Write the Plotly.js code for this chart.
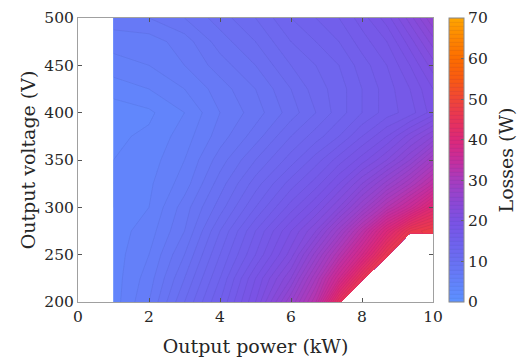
<!DOCTYPE html>
<html>
<head>
<meta charset="utf-8">
<script src="https://cdn.plot.ly/plotly-3.0.1.min.js"></script>
<style>html,body{margin:0;padding:0;background:#fff;}#chart{width:521px;height:358px;}</style>
</head>
<body>
<div id="chart"></div>
<script>
// Output power (kW)
var powerKW = [1, 2, 3, 4, 5, 6, 6.7, 7.35, 8, 8.7, 9.35, 10];
// Output voltage (V)
var voltageV = [200, 225, 250, 275, 300, 325, 350, 375, 400, 425, 450, 475, 500];
// Losses (W), one array per voltage row (NaN = not operable)
var loss200 = [4.5, 7, 11, 15, 20, 27, 33, 44, NaN, NaN, NaN, NaN];
var loss225 = [4.5, 6.5, 10, 14, 19, 24, 30, 37, 45, NaN, NaN, NaN];
var loss250 = [4.5, 6, 9, 13, 17, 21.5, 26.5, 32, 38, 46, NaN, NaN];
var loss275 = [4.5, 5.5, 8, 12, 16, 20, 23, 27.5, 33, 40, 46, 48];
var loss300 = [4, 5, 7.5, 10.5, 14, 17.5, 20, 23, 27, 32, 36, 41];
var loss325 = [4, 4.8, 6.5, 9.5, 12.5, 15.5, 17.5, 20, 23, 26.5, 30, 34];
var loss350 = [4, 4.5, 6, 8.5, 11, 13.5, 15.5, 17.5, 19.5, 22, 25, 29];
var loss375 = [3.8, 4.2, 5.5, 7.5, 9.5, 12, 13.5, 15, 17, 19, 21.5, 24];
var loss400 = [3.3, 3.8, 5, 7, 8.5, 10.5, 12, 13.5, 15, 16.5, 17.5, 19.5];
var loss425 = [4.5, 5, 6, 7.5, 9, 11, 12.5, 13.5, 15, 16.5, 18, 20];
var loss450 = [5.5, 6, 7, 8.5, 10, 12, 13, 14, 15.5, 17, 19, 21.5];
var loss475 = [6.5, 6.5, 7.5, 9.5, 11, 13, 14, 15, 16.5, 18, 20.5, 23.5];
var loss500 = [7.5, 8, 9, 10.5, 12, 14, 15, 16, 17.5, 19.5, 22.5, 26];

var xTicks = [0, 2, 4, 6, 8, 10];
var yTicks = [200, 250, 300, 350, 400, 450, 500];
var cbTicks = [0, 10, 20, 30, 40, 50, 60, 70];

var csLevels = [0, 5, 10, 15, 20, 25, 30, 35, 40, 45, 50, 55, 60, 65, 70];
var csColors = ['rgb(92,146,255)', 'rgb(99,130,250)', 'rgb(106,112,242)', 'rgb(113,96,236)',
  'rgb(123,82,228)', 'rgb(142,71,211)', 'rgb(168,60,190)', 'rgb(198,46,156)', 'rgb(220,40,122)',
  'rgb(231,52,88)', 'rgb(240,70,55)', 'rgb(249,90,18)', 'rgb(252,108,0)', 'rgb(254,135,0)',
  'rgb(255,165,0)'];

var zRows = [loss200, loss225, loss250, loss275, loss300, loss325, loss350,
  loss375, loss400, loss425, loss450, loss475, loss500];
var colorscale = csLevels.map(function (v, i) { return [v / 70, csColors[i]]; });

var fontFam = 'DejaVu Serif, serif';
var txtCol = '#262626';

var trace = {
  type: 'contour',
  x: powerKW,
  y: voltageV,
  z: zRows,
  connectgaps: false,
  autocontour: false,
  contours: {coloring: 'fill', start: 0, end: 70, size: 1, showlines: true},
  line: {color: 'rgba(40,40,90,0.13)', width: 0.6, smoothing: 0},
  zauto: false, zmin: 0, zmax: 70,
  colorscale: colorscale,
  hoverinfo: 'skip',
  colorbar: {
    x: 1.045, xanchor: 'left', xpad: 0,
    y: 0.5, yanchor: 'middle', ypad: 0,
    len: 1, lenmode: 'fraction',
    thickness: 15, thicknessmode: 'pixels',
    outlinecolor: '#8a8a8a', outlinewidth: 1,
    tickmode: 'array', tickvals: cbTicks,
    ticks: 'inside', ticklen: 3, tickcolor: '#666',
    tickfont: {family: fontFam, size: 15.5, color: txtCol},
    ticklabelpad: 4
  }
};

var layout = {
  width: 521, height: 358,
  margin: {l: 78, r: 88, t: 18, b: 56},
  paper_bgcolor: '#fff', plot_bgcolor: '#fff',
  showlegend: false,
  xaxis: {
    range: [0, 10], tickmode: 'array', tickvals: xTicks,
    ticks: 'inside', ticklen: 4, tickcolor: '#555', mirror: 'ticks',
    showline: true, linecolor: '#a0a0a0', linewidth: 1,
    showgrid: false, zeroline: false,
    tickfont: {family: fontFam, size: 15.5, color: txtCol},
    title: {text: 'Output power (kW)', font: {family: fontFam, size: 19, color: txtCol}, standoff: 15}
  },
  yaxis: {
    range: [200, 500], tickmode: 'array', tickvals: yTicks,
    ticks: 'inside', ticklen: 4, tickcolor: '#555', mirror: 'ticks',
    showline: true, linecolor: '#a0a0a0', linewidth: 1,
    showgrid: false, zeroline: false,
    tickfont: {family: fontFam, size: 15.5, color: txtCol},
    title: {text: 'Output voltage (V)', font: {family: fontFam, size: 19, color: txtCol}, standoff: 3}
  },
  annotations: [{
    text: 'Losses (W)', xref: 'paper', yref: 'paper', x: 1.207, y: 0.5,
    xanchor: 'center', yanchor: 'middle', textangle: -90, showarrow: false,
    font: {family: fontFam, size: 19, color: txtCol}
  }]
};

Plotly.newPlot('chart', [trace], layout, {displayModeBar: false, staticPlot: true});
</script>
</body>
</html>
